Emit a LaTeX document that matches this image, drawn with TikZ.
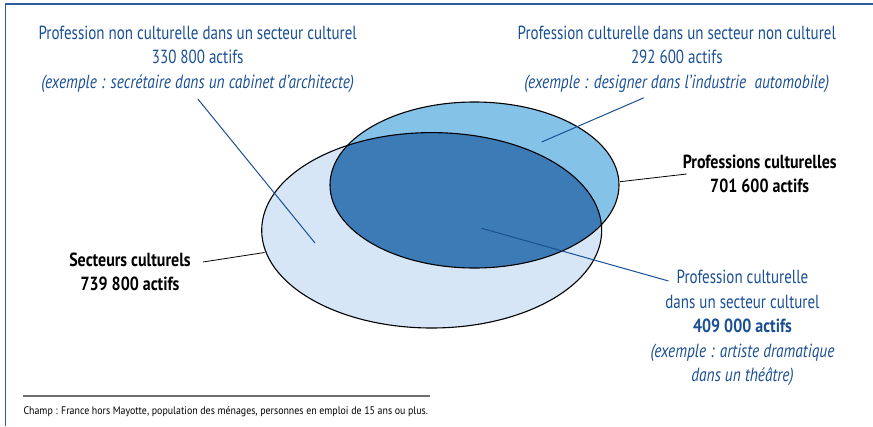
\documentclass[tikz,border=0pt]{standalone}
\usepackage{fontspec}
\setmainfont{PT Sans}[FakeStretch=0.79,
  BoldFeatures={FakeStretch=0.84},
  ItalicFeatures={FakeStretch=0.81}]
\newfontfamily\notefont{PT Sans}[FakeStretch=0.9]
\definecolor{frameblue}{RGB}{46,92,154}
\definecolor{txtblue}{RGB}{26,79,148}
\definecolor{lightfill}{RGB}{214,230,247}
\definecolor{midfill}{RGB}{132,194,232}
\definecolor{darkfill}{RGB}{61,123,182}
\definecolor{rulegray}{RGB}{110,110,110}
\begin{document}
\begin{tikzpicture}[x=1pt,y=-1pt,
    bluelabel/.style={text=txtblue,align=center,inner sep=0pt,font=\fontsize{19}{24.5}\selectfont},
    blacklabel/.style={align=center,inner sep=0pt,font=\fontsize{19}{24}\selectfont\bfseries},
    callout/.style={txtblue,line width=1pt},
    pointer/.style={black,line width=0.8pt},
    zone/.style={draw=black,line width=1.1pt}]
  \useasboundingbox (0,0) rectangle (873,426);
  \draw[frameblue,line width=1.5pt] (873,4) -- (5.5,4) -- (5.5,426);
  \fill[lightfill] (431.7,230.3) ellipse [x radius=170, y radius=97.7];
  \fill[midfill] (474.5,185) ellipse [x radius=144.5, y radius=83];
  \begin{scope}
    \clip (431.7,230.3) ellipse [x radius=170, y radius=97.7];
    \fill[darkfill] (474.5,185) ellipse [x radius=144.5, y radius=83];
  \end{scope}
  \draw[zone] (431.7,230.3) ellipse [x radius=170, y radius=97.7];
  \draw[zone] (474.5,185) ellipse [x radius=144.5, y radius=83];
  \node[bluelabel] (nc) at (197.7,59.3) {Profession non culturelle dans un secteur culturel\\
    330 800 actifs\\ \textit{(exemple : secrétaire dans un cabinet d’architecte)}};
  \node[bluelabel] (hc) at (676.8,59.3) {Profession culturelle dans un secteur non culturel\\
    292 600 actifs\\ \textit{(exemple : designer dans l’industrie\ \ automobile)}};
  \node[blacklabel] (pc) at (759.7,174) {Professions culturelles\\ 701 600 actifs};
  \node[blacklabel] (sc) at (130,272) {Secteurs culturels\\ 739 800 actifs};
  \node[bluelabel] (cc) at (742.5,328) {Profession culturelle\\ dans un secteur culturel\\
    \textbf{409 000 actifs}\\ \textit{(exemple : artiste dramatique}\\ \textit{dans un théâtre)}};
  \coordinate (nc-foot) at ([yshift=-6pt]nc.south);
  \coordinate (nc-pt) at (315,243);
  \coordinate (hc-foot) at ([xshift=-33pt,yshift=-5pt]hc.south);
  \coordinate (hc-pt) at (541.7,142);
  \coordinate (cc-foot) at ([xshift=-74pt,yshift=-11pt]cc.north);
  \coordinate (cc-pt) at (481.7,228.3);
  \coordinate (pc-foot) at ([xshift=4pt]pc.west);
  \coordinate (pc-pt) at (620,181.7);
  \coordinate (sc-foot) at ([xshift=12pt,yshift=10pt]sc.east);
  \coordinate (sc-pt) at (264.5,252.5);
  \draw[callout] (nc-foot) -- (nc-pt);
  \draw[callout] (hc-foot) -- (hc-pt);
  \draw[callout] (cc-foot) -- (cc-pt);
  \draw[pointer] (pc-foot) -- (pc-pt);
  \draw[pointer] (sc-foot) -- (sc-pt);
  \draw[rulegray,line width=1.6pt] (23,396) -- (430,396);
  \node[anchor=base west,inner sep=0pt,font=\notefont\fontsize{11}{12}\selectfont] (champ) at (23.3,414)
    {Champ : France hors Mayotte, population des ménages, personnes en emploi de 15 ans ou plus.};
\end{tikzpicture}
\end{document}
